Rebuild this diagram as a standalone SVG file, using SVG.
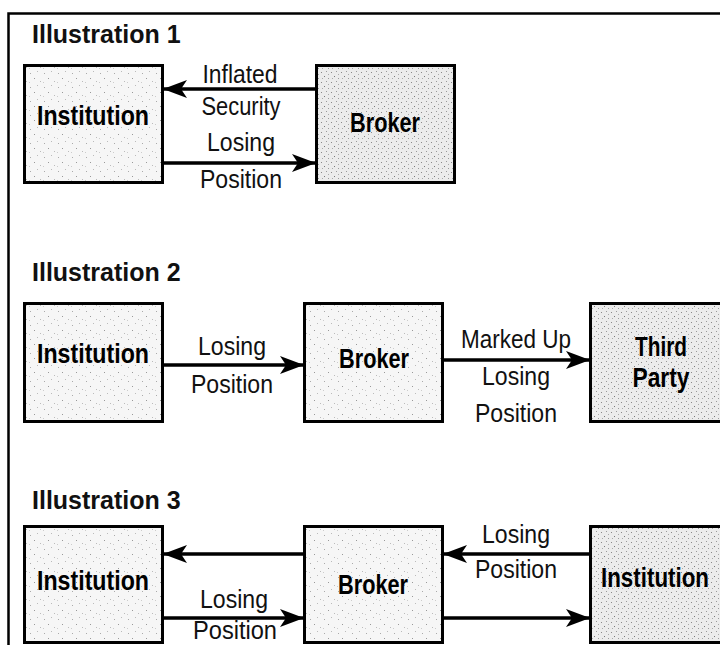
<svg xmlns="http://www.w3.org/2000/svg" width="720" height="645" viewBox="0 0 720 645">
<style>
.title{font-family:"Liberation Sans",Arial,sans-serif;font-weight:bold;font-size:25px;fill:#111}
.node{font-family:"Liberation Sans",Arial,sans-serif;font-weight:bold;font-size:28px;fill:#000;text-anchor:middle}
.lbl{font-family:"Liberation Sans",Arial,sans-serif;font-size:25px;fill:#111;text-anchor:middle}
.box{fill:url(#speck);stroke:#000;stroke-width:3}
.boxd{fill:url(#speckd);stroke:#000;stroke-width:3}
.conn{stroke:#000;stroke-width:3.5;fill:none;marker-end:url(#ah)}
</style>
<defs>
<pattern id="speck" width="14" height="14" patternUnits="userSpaceOnUse">
<rect width="14" height="14" fill="#f6f6f6"/>
<rect x="2" y="3" width="1" height="1" fill="#aaa"/>
<rect x="9" y="1" width="1" height="1" fill="#bbb"/>
<rect x="6" y="8" width="1" height="1" fill="#999"/>
<rect x="12" y="11" width="1" height="1" fill="#bbb"/>
<rect x="1" y="12" width="1" height="1" fill="#ccc"/>
</pattern>
<pattern id="speckd" width="10" height="10" patternUnits="userSpaceOnUse">
<rect width="10" height="10" fill="#ececec"/>
<rect x="1" y="2" width="1" height="1" fill="#888"/>
<rect x="6" y="1" width="1" height="1" fill="#999"/>
<rect x="4" y="6" width="1" height="1" fill="#777"/>
<rect x="8" y="8" width="1" height="1" fill="#999"/>
<rect x="2" y="8" width="1" height="1" fill="#aaa"/>
<rect x="8" y="4" width="1" height="1" fill="#aaa"/>
</pattern>
<marker id="ah" markerUnits="userSpaceOnUse" markerWidth="24" markerHeight="18" refX="23" refY="9" orient="auto">
<path d="M0,0 L24,9 L0,18 L6,9 Z" fill="#000"/>
</marker>
</defs>

<g id="frame" fill="none" stroke="#000" stroke-width="2.5">
<path d="M8.5,645 V13.5 H720"/>
</g>

<text class="title" x="32" y="43">Illustration 1</text>
<text class="title" x="32" y="281">Illustration 2</text>
<text class="title" x="32" y="509">Illustration 3</text>

<g id="inst1"><rect class="box" x="24.5" y="65.5" width="138" height="117"/><text class="node" x="93" y="125" textLength="112" lengthAdjust="spacingAndGlyphs">Institution</text></g>
<g id="broker1"><rect class="boxd" x="316.5" y="65.5" width="138" height="117"/><text class="node" x="385" y="132" textLength="70" lengthAdjust="spacingAndGlyphs">Broker</text></g>

<g id="inst2"><rect class="box" x="24.5" y="303.5" width="138" height="118"/><text class="node" x="93" y="363" textLength="112" lengthAdjust="spacingAndGlyphs">Institution</text></g>
<g id="broker2"><rect class="box" x="304.5" y="303.5" width="138" height="118"/><text class="node" x="374" y="368" textLength="70" lengthAdjust="spacingAndGlyphs">Broker</text></g>
<g id="third2"><rect class="boxd" x="590.5" y="303.5" width="160" height="118"/><text class="node" x="661" y="356" textLength="52" lengthAdjust="spacingAndGlyphs">Third</text><text class="node" x="661" y="387" textLength="57" lengthAdjust="spacingAndGlyphs">Party</text></g>

<g id="inst3"><rect class="box" x="24.5" y="526.5" width="138" height="116"/><text class="node" x="93" y="590" textLength="112" lengthAdjust="spacingAndGlyphs">Institution</text></g>
<g id="broker3"><rect class="box" x="304.5" y="526.5" width="138" height="116"/><text class="node" x="373" y="594" textLength="70" lengthAdjust="spacingAndGlyphs">Broker</text></g>
<g id="inst3r"><rect class="boxd" x="590.5" y="526.5" width="160" height="116"/><text class="node" x="655" y="587" textLength="108" lengthAdjust="spacingAndGlyphs">Institution</text></g>

<g id="connectors">
<line class="conn" x1="315" y1="89" x2="164" y2="89"/>
<line class="conn" x1="164" y1="163" x2="315" y2="163"/>
<line class="conn" x1="164" y1="365" x2="303" y2="365"/>
<line class="conn" x1="444" y1="360" x2="589" y2="360"/>
<line class="conn" x1="303" y1="554" x2="164" y2="554"/>
<line class="conn" x1="589" y1="554" x2="444" y2="554"/>
<line class="conn" x1="164" y1="618" x2="303" y2="618"/>
<line class="conn" x1="444" y1="618" x2="589" y2="618"/>
</g>

<g id="labels">
<text class="lbl" x="240" y="83" textLength="75" lengthAdjust="spacingAndGlyphs">Inflated</text>
<text class="lbl" x="241" y="115" textLength="79" lengthAdjust="spacingAndGlyphs">Security</text>
<text class="lbl" x="241" y="151" textLength="68" lengthAdjust="spacingAndGlyphs">Losing</text>
<text class="lbl" x="241" y="188" textLength="82" lengthAdjust="spacingAndGlyphs">Position</text>
<text class="lbl" x="232" y="355" textLength="68" lengthAdjust="spacingAndGlyphs">Losing</text>
<text class="lbl" x="232" y="393" textLength="82" lengthAdjust="spacingAndGlyphs">Position</text>
<text class="lbl" x="516" y="348" textLength="110" lengthAdjust="spacingAndGlyphs">Marked Up</text>
<text class="lbl" x="516" y="385" textLength="68" lengthAdjust="spacingAndGlyphs">Losing</text>
<text class="lbl" x="516" y="422" textLength="82" lengthAdjust="spacingAndGlyphs">Position</text>
<text class="lbl" x="516" y="543" textLength="68" lengthAdjust="spacingAndGlyphs">Losing</text>
<text class="lbl" x="516" y="578" textLength="82" lengthAdjust="spacingAndGlyphs">Position</text>
<text class="lbl" x="234" y="608" textLength="68" lengthAdjust="spacingAndGlyphs">Losing</text>
<text class="lbl" x="235" y="639" textLength="84" lengthAdjust="spacingAndGlyphs">Position</text>
</g>
</svg>
